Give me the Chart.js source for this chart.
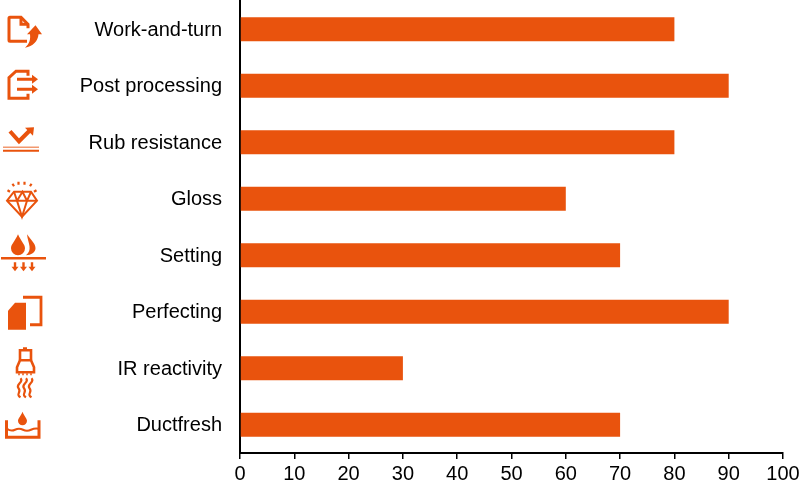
<!DOCTYPE html>
<html>
<head>
<meta charset="utf-8">
<script src="https://cdn.jsdelivr.net/npm/chart.js@4"></script>
<style>
  html, body { margin: 0; padding: 0; background: #fff; }
  #wrap { width: 800px; height: 486px; }
</style>
</head>
<body>
<div id="wrap"><canvas id="chart" width="800" height="486"></canvas></div>
<script>
var categories = ['Work-and-turn', 'Post processing', 'Rub resistance', 'Gloss', 'Setting', 'Perfecting', 'IR reactivity', 'Ductfresh'];
var scores = [80, 90, 80, 60, 70, 90, 30, 70];
var xTicks = [0, 10, 20, 30, 40, 50, 60, 70, 80, 90, 100];

var orange = '#e9530d';

// icon shapes, drawn relative to the middle of each category band
var stroked = function (ctx, width, paths) {
    ctx.lineWidth = width;
    paths.forEach(function (p) { ctx.stroke(new Path2D(p)); });
};
var filled = function (ctx, paths) {
    paths.forEach(function (p) { ctx.fill(new Path2D(p)); });
};
var icons = [
    function (ctx) {
        stroked(ctx, 3, ['M28 -1 V-5 L21 -12 H10 Q9 -12 9 -11 V11 Q9 12 10 12 H27', 'M21 -12 V-5 H28']);
        filled(ctx, ['M35.5 -4 L42 5 H38.5 C38 12 33 17 25 18.5 C30 14 30.5 10 30 5 H27 Z']);
    },
    function (ctx) {
        stroked(ctx, 3, ['M28 -10 V-14.5 H16 L9 -8 V12.5 H28 V8', 'M17 -6.5 H33', 'M17 3.5 H33']);
        filled(ctx, ['M32 -11 L38 -6.5 L32 -2 Z', 'M32 -1 L38 3.5 L32 8 Z']);
    },
    function (ctx) {
        stroked(ctx, 4, ['M10 -11 L19 -1 L30 -12']);
        filled(ctx, ['M34 -15 L25 -14.5 L33 -6.5 Z']);
        stroked(ctx, 2.2, ['M3 8.5 H39']);
        ctx.globalAlpha = 0.6;
        stroked(ctx, 1.5, ['M3 5 H39']);
        ctx.globalAlpha = 1;
    },
    function (ctx) {
        stroked(ctx, 2, ['M14 -7 H31 L37 2 L22 18 L7 2 Z', 'M7 2 H37', 'M14 -7 L17 2 L22 18 L27 2 L31 -7', 'M17 2 L22.5 -7 L27 2']);
        stroked(ctx, 2.2, ['M7.5 -8.5 L10 -7', 'M12.5 -15 L14 -12.5', 'M18.5 -17 V-14', 'M24.5 -17 V-14', 'M31.5 -15 L30 -12.5', 'M36.5 -8.5 L34 -7']);
    },
    function (ctx) {
        filled(ctx, ['M18 -21 C15 -14 11 -11 11 -7 A7 7 0 0 0 25 -7 C25 -11 21 -14 18 -21 Z',
            'M27 -21 C31 -15 35.5 -12 35.5 -7 C35.5 -3 31 0 26 0 C29 -3 30 -5 29.5 -9 C29 -13 27.5 -16 27 -21 Z']);
        stroked(ctx, 2.4, ['M1 3 H46', 'M15 7 V13', 'M23.5 7 V13', 'M32 7 V13']);
        filled(ctx, ['M11.5 11.5 H18.5 L15 16 Z', 'M20 11.5 H27 L23.5 16 Z', 'M28.5 11.5 H35.5 L32 16 Z']);
    },
    function (ctx) {
        filled(ctx, ['M8 -1 L15 -9 H26 V18 H8 Z']);
        stroked(ctx, 2.8, ['M23 -14.5 H41 V13 H30']);
    },
    function (ctx) {
        filled(ctx, ['M23 -21 H27 V-18 H23 Z']);
        stroked(ctx, 2.6, ['M20 -8 V-18 H31 V-8', 'M20 -8 L17 -1 V4 H34 V-1 L31 -8 Z']);
        stroked(ctx, 1.5, ['M19 5 V7', 'M23 5 V7', 'M27 5 V7', 'M31 5 V7']);
        stroked(ctx, 2.2, [
            'M20.5 10 C24.5 14 15 16 18.5 20 C22 24 15 26 20.5 29',
            'M26 10 C30 14 20.5 16 24 20 C27.5 24 20.5 26 26 29',
            'M31.5 10 C35.5 14 26 16 29.5 20 C33 24 26 26 31.5 29'
        ]);
    },
    function (ctx) {
        stroked(ctx, 3, ['M6.5 -4.5 V12.5 H39 V-4.5']);
        stroked(ctx, 2, ['M7 4 Q11 7 15 5 T23 5 T31 5 T39 4']);
        filled(ctx, ['M22.5 -13 C21 -9 18 -6 18 -4 A4.5 4.5 0 0 0 27 -4 C27 -6 24 -9 22.5 -13 Z']);
    }
];

var iconPlugin = {
    id: 'sideIcons',
    afterDraw: function (chart) {
        var ctx = chart.ctx;
        var y = chart.scales.y;
        icons.forEach(function (draw, i) {
            ctx.save();
            ctx.translate(0, y.getPixelForValue(i));
            ctx.strokeStyle = orange;
            ctx.fillStyle = orange;
            draw(ctx);
            ctx.restore();
        });
    }
};

new Chart(document.getElementById('chart').getContext('2d'), {
    type: 'bar',
    data: {
        labels: categories,
        datasets: [{
            data: scores,
            backgroundColor: orange,
            barPercentage: 1,
            categoryPercentage: 0.425
        }]
    },
    options: {
        indexAxis: 'y',
        responsive: false,
        animation: false,
        layout: { padding: { top: 1 } },
        plugins: { legend: { display: false }, tooltip: { enabled: false } },
        scales: {
            x: {
                min: 0,
                max: 100,
                afterBuildTicks: function (scale) {
                    scale.ticks = xTicks.map(function (v) { return { value: v }; });
                },
                afterFit: function (scale) {
                    scale.height = 33;
                    scale.paddingLeft = 0;
                    scale.paddingRight = 17;
                },
                grid: { drawOnChartArea: false, color: '#000', lineWidth: 1.5, tickLength: 6 },
                border: { color: '#000', width: 2 },
                ticks: {
                    color: '#000',
                    padding: 3,
                    maxRotation: 0,
                    font: { family: '"Liberation Sans"', size: 20 }
                }
            },
            y: {
                afterFit: function (scale) {
                    scale.width = 240;
                    scale.paddingTop = 0;
                    scale.paddingBottom = 0;
                },
                grid: { display: false, drawTicks: false },
                border: { color: '#000', width: 2 },
                ticks: {
                    color: '#000',
                    padding: 18,
                    labelOffset: 1,
                    font: { family: '"Liberation Sans"', size: 20 }
                }
            }
        }
    },
    plugins: [iconPlugin]
});
</script>
</body>
</html>
